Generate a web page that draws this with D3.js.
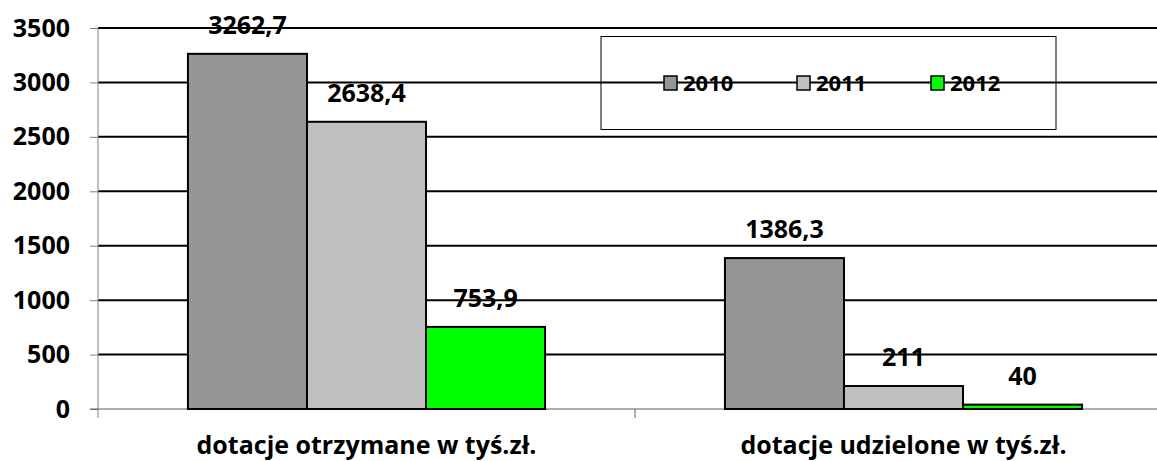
<!DOCTYPE html>
<html>
<head>
<meta charset="utf-8">
<script src="https://cdn.jsdelivr.net/npm/d3@7"></script>
<style>
  body { margin: 0; background: #fff; }
  svg { display: block; font-family: "Open Sans", Lato, "DejaVu Sans", sans-serif; font-weight: bold; }
</style>
</head>
<body>
<div id="chart"></div>
<script>
// Dane wykresu
const categories = ['dotacje otrzymane w tyś.zł.', 'dotacje udzielone w tyś.zł.'];
const years = ['2010', '2011', '2012'];
const values2010 = [3262.7, 1386.3];
const values2011 = [2638.4, 211];
const values2012 = [753.9, 40];
const labels2010 = ['3262,7', '1386,3'];
const labels2011 = ['2638,4', '211'];
const labels2012 = ['753,9', '40'];
const yTicks = [0, 500, 1000, 1500, 2000, 2500, 3000, 3500];
const colors = ['#969696', '#c0c0c0', '#00ff00'];

const width = 1157, height = 461;
const plotLeft = 98, plotRight = 1172, plotTop = 28, plotBottom = 409;

const svg = d3.select('#chart').append('svg')
    .attr('width', width)
    .attr('height', height);

const x = d3.scaleBand().domain(categories).range([plotLeft, plotRight]).paddingInner(0).paddingOuter(0);
const xSeries = d3.scaleBand().domain(years).range([0, x.bandwidth() * 0.665]);
const groupOffset = x.bandwidth() * (1 - 0.665) / 2;
const y = d3.scaleLinear().domain([0, 3500]).range([plotBottom, plotTop]);

// Linie siatki
svg.append('g')
    .selectAll('line')
    .data(yTicks.filter(d => d > 0))
    .enter().append('line')
    .attr('x1', plotLeft).attr('x2', width)
    .attr('y1', d => y(d)).attr('y2', d => y(d))
    .attr('stroke', '#000')
    .attr('stroke-width', 2);

// Oś Y
const yAxis = svg.append('g')
    .attr('transform', `translate(${plotLeft},0)`)
    .call(d3.axisLeft(y).tickValues(yTicks).tickFormat(d3.format('d')).tickSize(8).tickPadding(20));
yAxis.select('.domain').attr('stroke', '#808080').attr('d', `M0,${plotTop}V${plotBottom + 9}`);
yAxis.selectAll('.tick line').attr('stroke', '#808080');
yAxis.selectAll('.tick text')
    .attr('font-size', '25px')
    .attr('font-weight', 'bold')
    .attr('font-family', '"Open Sans", Lato, sans-serif')
    .attr('fill', '#000');

// Linia zera i podziałki kategorii
svg.append('line')
    .attr('x1', plotLeft - 8).attr('x2', width)
    .attr('y1', plotBottom).attr('y2', plotBottom)
    .attr('stroke', '#606060').attr('stroke-width', 1);
svg.append('g')
    .selectAll('line')
    .data(categories.slice(1))
    .enter().append('line')
    .attr('x1', d => x(d)).attr('x2', d => x(d))
    .attr('y1', plotBottom).attr('y2', plotBottom + 9)
    .attr('stroke', '#606060');

// Słupki
const seriesValues = [values2010, values2011, values2012];
const seriesLabels = [labels2010, labels2011, labels2012];
const bars = [];
years.forEach((yr, si) => {
    categories.forEach((cat, ci) => {
        bars.push({ year: yr, si, cat, value: seriesValues[si][ci], label: seriesLabels[si][ci] });
    });
});

svg.append('g')
    .selectAll('rect')
    .data(bars)
    .enter().append('rect')
    .attr('x', d => x(d.cat) + groupOffset + xSeries(d.year))
    .attr('y', d => y(d.value))
    .attr('width', xSeries.bandwidth())
    .attr('height', d => plotBottom - y(d.value))
    .attr('fill', d => colors[d.si])
    .attr('stroke', '#000')
    .attr('stroke-width', 2);

// Etykiety wartości
svg.append('g')
    .selectAll('text')
    .data(bars)
    .enter().append('text')
    .attr('x', d => x(d.cat) + groupOffset + xSeries(d.year) + xSeries.bandwidth() / 2)
    .attr('y', d => y(d.value) - 20)
    .attr('text-anchor', 'middle')
    .attr('font-size', '25px')
    .text(d => d.label);

// Etykiety kategorii
svg.append('g')
    .selectAll('text')
    .data(categories)
    .enter().append('text')
    .attr('x', d => x(d) + x.bandwidth() / 2)
    .attr('y', 454)
    .attr('text-anchor', 'middle')
    .attr('font-size', '25px')
    .text(d => d);

// Legenda
const legend = svg.append('g');
legend.append('rect')
    .attr('x', 601).attr('y', 36.5)
    .attr('width', 455).attr('height', 93)
    .attr('fill', 'none')
    .attr('stroke', '#000')
    .attr('stroke-width', 1);
const legendX = [664, 797, 931];
years.forEach((yr, i) => {
    legend.append('rect')
        .attr('x', legendX[i]).attr('y', 76)
        .attr('width', 13).attr('height', 14)
        .attr('fill', colors[i])
        .attr('stroke', '#000')
        .attr('stroke-width', 1.5);
    legend.append('text')
        .attr('x', legendX[i] + 19).attr('y', 91)
        .attr('font-size', '22px')
        .text(yr);
});
</script>
</body>
</html>
